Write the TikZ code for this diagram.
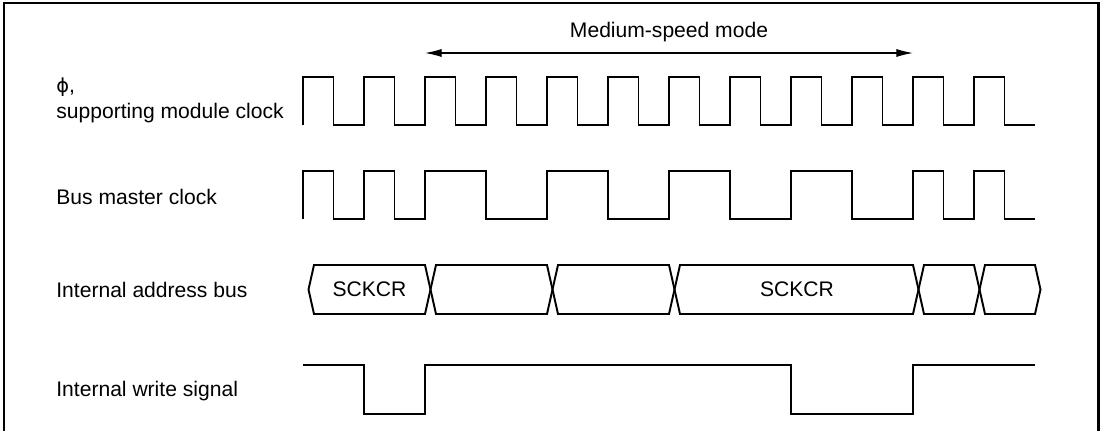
\documentclass[tikz,border=0pt]{standalone}
\usepackage{fontspec}
\setmainfont{Liberation Sans}
\newfontfamily\greekfont{DejaVu Sans}
\usetikzlibrary{arrows.meta,positioning}

\begin{document}
\begin{tikzpicture}[x=0.02cm,y=-0.02cm,
  sig/.style={line width=1.1pt},
  lbl/.style={anchor=base west,font=\fontsize{12}{14.8}\selectfont,align=left,inner sep=0pt},
  buslbl/.style={anchor=base,font=\fontsize{12}{14}\selectfont,inner sep=0pt}]
  \useasboundingbox (0,0) rectangle (1102,431);
  % Frame (open at the bottom)
  \draw[line width=1.4pt] (4,431) -- (4,3) -- (1098.5,3) -- (1098.5,431);
  % Medium-speed mode span
  \coordinate (mslft) at (425,53);
  \coordinate (msrgt) at (913,53);
  \draw[line width=0.6pt,{Latex[length=9.5pt,width=4.6pt]}-{Latex[length=9.5pt,width=4.6pt]}] (mslft) -- (msrgt);
  \node[buslbl] (mslbl) at (669,38) {Medium-speed mode};
  % Signal names
  \node[lbl] (phi) at (56,119) {{\greekfont\fontsize{11}{14.8}\selectfont ϕ},\\[0.4pt]supporting module clock};
  \node[lbl] (bmclk) at (56,205) {Bus master clock};
  \node[lbl] (abus) at (56,298) {Internal address bus};
  \node[lbl] (wrsig) at (56,397) {Internal write signal};
  % phi clock
  \draw[sig] (303,125) \foreach \i in {1,...,12} { -- ++(0,-48) -- ++(30.5,0) -- ++(0,48) -- ++(30.5,0) };
  % Bus master clock
  \draw[sig] (303,219) \foreach \r/\f in {0/1,2/3,4/6,8/10,12/14,16/18,20/21,22/23} {
    -- ({303+30.5*\r},219) -- ({303+30.5*\r},171) -- ({303+30.5*\f},171) -- ({303+30.5*\f},219) } -- (1035,219);
  % Internal address bus
  \foreach \a/\b in {303/425,425/547,547/669,669/913,913/974,974/1035}
    \draw[sig] ({\a+5.5},289.5) -- ({\a+11},265) -- (\b,265) -- ({\b+5.5},289.5) -- (\b,314) -- ({\a+11},314) -- cycle;
  \node[buslbl] (sckcra) at (369.5,297) {SCKCR};
  \node[buslbl] (sckcrb) at (797,297) {SCKCR};
  % Internal write signal
  \draw[sig] (303,365) -- (364,365) -- (364,414) -- (425,414) -- (425,365) -- (791,365)
    -- (791,414) -- (913,414) -- (913,365) -- (1035,365);
\end{tikzpicture}
\end{document}
